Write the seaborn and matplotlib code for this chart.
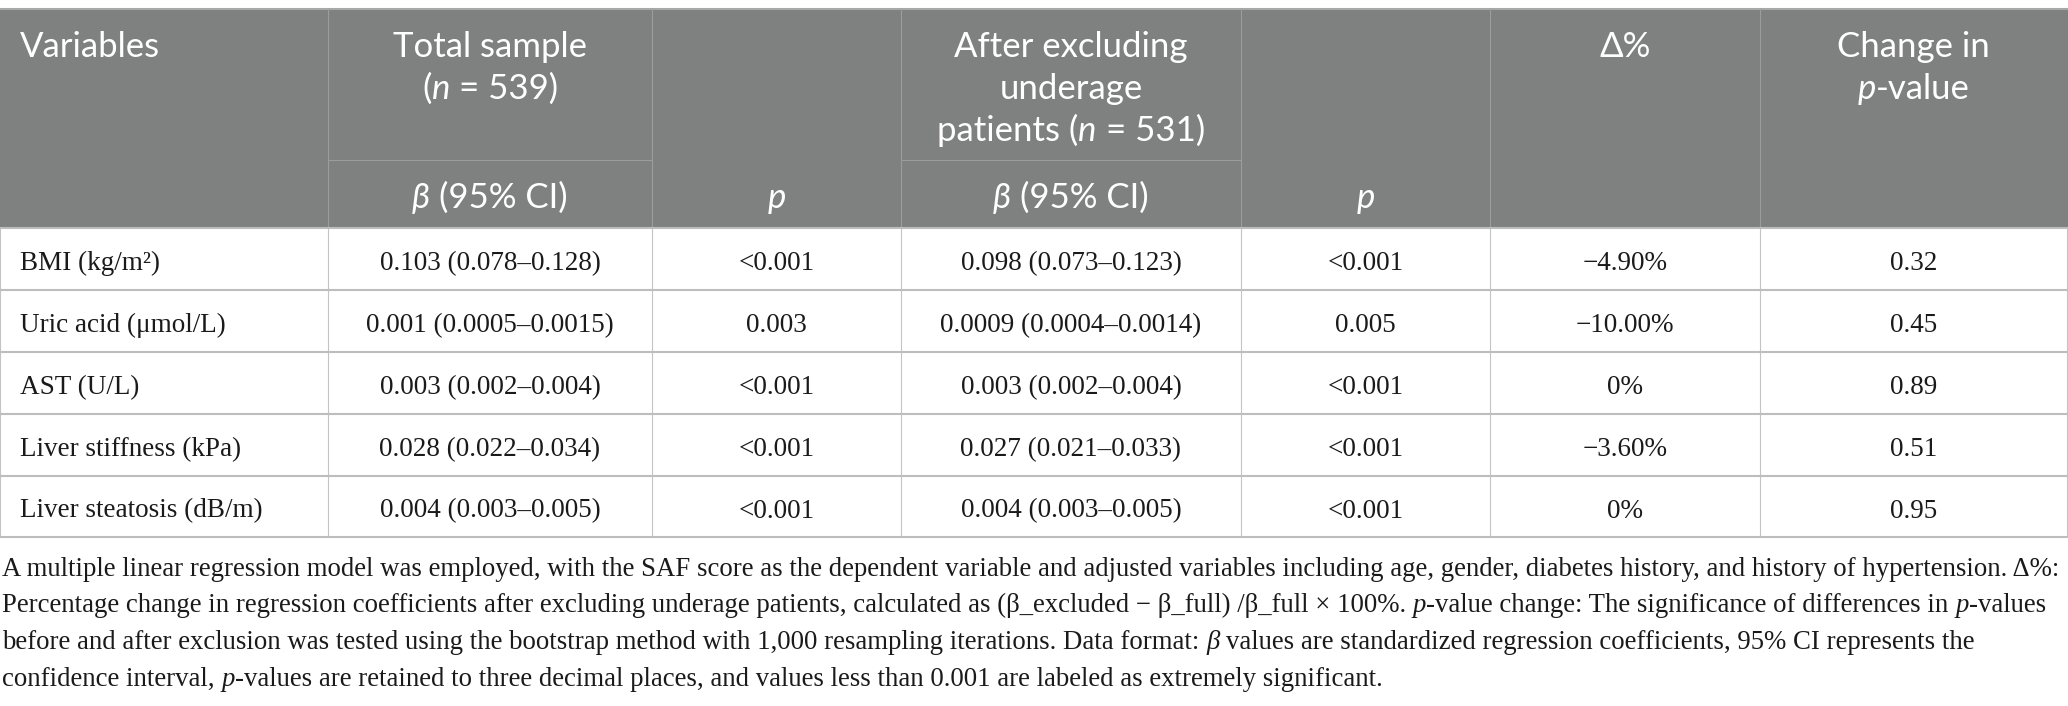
import matplotlib
matplotlib.use("Agg")
import matplotlib.pyplot as plt
import seaborn as sns
from matplotlib.patches import Rectangle

# ---- table content ----
variables = ["BMI (kg/m²)", "Uric acid (μmol/L)", "AST (U/L)",
             "Liver stiffness (kPa)", "Liver steatosis (dB/m)"]
beta_total = ["0.103 (0.078–0.128)", "0.001 (0.0005–0.0015)", "0.003 (0.002–0.004)",
              "0.028 (0.022–0.034)", "0.004 (0.003–0.005)"]
p_total = ["<0.001", "0.003", "<0.001", "<0.001", "<0.001"]
beta_excl = ["0.098 (0.073–0.123)", "0.0009 (0.0004–0.0014)", "0.003 (0.002–0.004)",
             "0.027 (0.021–0.033)", "0.004 (0.003–0.005)"]
p_excl = ["<0.001", "0.005", "<0.001", "<0.001", "<0.001"]
delta_pct = ["−4.90%", "−10.00%", "0%", "−3.60%", "0%"]
p_change = ["0.32", "0.45", "0.89", "0.51", "0.95"]

# header text, (string, italic) runs, one list per line
head_variables = [[("Variables", False)]]
head_total = [[("Total sample", False)], [("(", False), ("n", True), (" = 539)", False)]]
head_excl = [[("After excluding", False)], [("underage", False)],
             [("patients (", False), ("n", True), (" = 531)", False)]]
head_delta = [[("Δ%", False)]]
head_change = [[("Change in", False)], [("p", True), ("-value", False)]]
sub_beta = [("β", True), (" (95% CI)", False)]
sub_p = [("p", True)]

footnote = [
    [("A multiple linear regression model was employed, with the SAF score as the dependent variable "
      "and adjusted variables including age, gender, diabetes history, and history of hypertension. Δ%:", False)],
    [("Percentage change in regression coefficients after excluding underage patients, calculated as "
      "(β_excluded − β_full) /β_full × 100%. ", False), ("p", True),
     ("-value change: The significance of differences in ", False), ("p", True), ("-values", False)],
    [("before and after exclusion was tested using the bootstrap method with 1,000 resampling iterations. "
      "Data format: ", False), ("β", True),
     (" values are standardized regression coefficients, 95% CI represents the", False)],
    [("confidence interval, ", False), ("p", True),
     ("-values are retained to three decimal places, and values less than 0.001 are labeled as "
      "extremely significant.", False)],
]

sns.set_theme(style="white")
SANS = ["Lato", "DejaVu Sans"]
SERIF = ["Liberation Serif", "DejaVu Serif"]

W, H = 2068, 706
fig = plt.figure(figsize=(W / 100, H / 100), dpi=100)
ax = fig.add_axes([0, 0, 1, 1])
ax.set_xlim(0, W)
ax.set_ylim(H, 0)
ax.axis("off")
renderer = fig.canvas.get_renderer()

col_edges = [0, 328, 652, 901, 1241, 1490, 1760, W - 1]
row_edges = [228, 290, 352, 414, 476, 537]
top, sub_y = 9, 160
HEAD_BG = "#7f8080"


def text_width(s, **kw):
    t = ax.text(0, 0, s, **kw)
    w = t.get_window_extent(renderer).width
    t.remove()
    return w


def draw_runs(x, y, runs, ha="left", **kw):
    sp = text_width("x x", **kw) - text_width("xx", **kw)
    pieces, total = [], 0
    for s, it in runs:
        lead = len(s) - len(s.lstrip(" "))
        trail = len(s) - len(s.rstrip(" "))
        core = s.strip(" ")
        style = "italic" if it else "normal"
        w = text_width(core, style=style, **kw) if core else 0
        pieces.append((lead * sp, core, style, w, trail * sp))
        total += lead * sp + w + trail * sp
    x0 = x - total / 2 if ha == "center" else x
    for lead, core, style, w, trail in pieces:
        x0 += lead
        if core:
            ax.text(x0, y, core, style=style, ha="left", va="baseline", **kw)
        x0 += w + trail


# header background and lines
ax.add_patch(Rectangle((0, top), W, row_edges[0] - top, color=HEAD_BG, lw=0))
ax.plot([0, W], [top, top], color="#a8a8a8", lw=1.5)
for x in col_edges[1:-1]:
    ax.plot([x, x], [top, row_edges[0]], color="#9c9c9c", lw=0.8)
for c in (1, 3):
    ax.plot([col_edges[c], col_edges[c + 1]], [sub_y, sub_y], color="#9c9c9c", lw=0.8)

# body grid
for x in col_edges:
    ax.plot([x, x], [row_edges[0], row_edges[-1]], color="#c4c4c4", lw=0.8)
for y in row_edges:
    ax.plot([0, W], [y, y], color="#bdbdbd", lw=1.5)

# header text
hkw = dict(family=SANS, fontsize=25, color="white")
line_gap = 42
first_base = 57


def centre(c):
    return (col_edges[c] + col_edges[c + 1]) / 2


for i, runs in enumerate(head_variables):
    draw_runs(20, first_base + i * line_gap, runs, **hkw)
for c, block in ((1, head_total), (3, head_excl), (5, head_delta), (6, head_change)):
    for i, runs in enumerate(block):
        draw_runs(centre(c), first_base + i * line_gap, runs, ha="center", **hkw)
sub_base = 208
for c in (1, 3):
    draw_runs(centre(c), sub_base, sub_beta, ha="center", **hkw)
for c in (2, 4):
    draw_runs(centre(c), sub_base, sub_p, ha="center", **hkw)

# body text
bkw = dict(family=SERIF, fontsize=19.5, color="#1a1a1a")
columns = [beta_total, p_total, beta_excl, p_excl, delta_pct, p_change]
for r in range(len(variables)):
    yb = (row_edges[r] + row_edges[r + 1]) / 2 + 11
    ax.text(20, yb, variables[r], ha="left", va="baseline", **bkw)
    for c, vals in enumerate(columns, start=1):
        ax.text(centre(c), yb, vals[r], ha="center", va="baseline", **bkw)

# footnote, sized so the first line spans the width
fs = 17.0
w0 = text_width(footnote[0][0][0], family=SERIF, fontsize=fs)
fs = fs * (W - 8) / w0
fkw = dict(family=SERIF, fontsize=fs, color="#1a1a1a")
for i, runs in enumerate(footnote):
    draw_runs(2, 576 + i * 36.5, runs, **fkw)

fig.savefig("out.png", dpi=100)
